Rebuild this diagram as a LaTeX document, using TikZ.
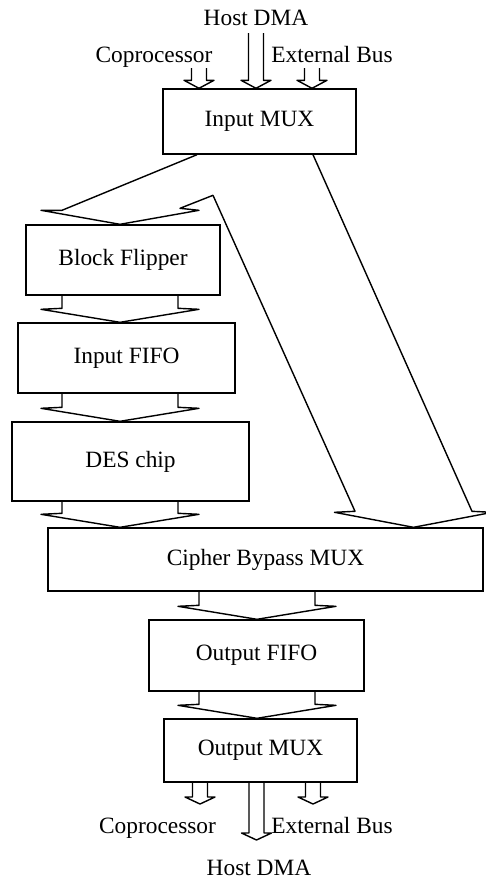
\documentclass[tikz,border=0pt]{standalone}
\usepackage{fontspec}
\setmainfont{Liberation Serif}
\usetikzlibrary{calc}

% wide data path between two stacked blocks, along an axis coordinate
\newcommand\widepath[3]{%
  \draw[flow] ($(#1.south -| #3)+(-58,0)$) -- ($(#2.north -| #3)+(-58,14)$)
    -- ++(-21,-1) -- (#2.north -| #3) -- ++(79,13) -- ++(-21,1)
    -- ($(#1.south -| #3)+(58,0)$);}
% narrow port arrows
\newcommand\inport[2]{%
  \draw[flow] ($(#1)+(-7.5,0)$) -- ($(#2.north -| #1)+(-7.5,8)$) -- ++(-7.5,0)
    -- (#2.north -| #1) -- ++(15,8) -- ++(-7.5,0) -- ($(#1)+(7.5,0)$);}
\newcommand\outport[2]{%
  \draw[flow] ($(#1.south -| #2)+(-7.5,0)$) -- ($(#2)+(-7.5,7)$) -- ++(-7.5,0)
    -- (#2) -- ++(15,7) -- ++(-7.5,0) -- ($(#1.south -| #2)+(7.5,0)$);}

\begin{document}
\begin{tikzpicture}[
    x=0.02cm,y=0.02cm,
    font=\fontsize{13.3}{16}\selectfont,
    block/.style={rectangle,draw,line width=0.8pt,inner sep=0pt},
    flow/.style={line width=0.8pt,line join=round},
    port/.style={anchor=base,inner sep=0pt}
]
 \useasboundingbox (0,0) rectangle (485,-879);

 \node[block,minimum width=3.86cm,minimum height=1.30cm] (imux) at (259.5,-121.5) {Input MUX};
 \node[block,minimum width=3.88cm,minimum height=1.40cm] (bflip) at (123,-260) {Block Flipper};
 \node[block,minimum width=4.34cm,minimum height=1.40cm] (ififo) at (126.5,-358) {Input FIFO};
 \node[block,minimum width=4.74cm,minimum height=1.58cm] (des) at (130.5,-461.5) {DES chip};
 \node[block,minimum width=8.70cm,minimum height=1.26cm] (cbmux) at (265.5,-559.5) {Cipher Bypass MUX};
 \node[block,minimum width=4.30cm,minimum height=1.42cm] (ofifo) at (256.5,-655.5) {Output FIFO};
 \node[block,minimum width=3.86cm,minimum height=1.26cm] (omux) at (260.5,-750.5) {Output MUX};

 \node[port] (hdtop) at (256,-26) {Host DMA};
 \node[port] (cptop) at (154,-62) {Coprocessor};
 \node[port] (ebtop) at (332,-62) {External Bus};
 \node[port] (cpbot) at (157.5,-833) {Coprocessor};
 \node[port] (ebbot) at (332,-833) {External Bus};
 \node[port] (hdbot) at (259,-875) {Host DMA};

 \coordinate (axl) at (120,0);
 \coordinate (axm) at (257,0);
 \coordinate (axb) at (413.5,0);
 \coordinate (cpin) at (199,-68);
 \coordinate (hdin) at (256,-33);
 \coordinate (ebin) at (312,-68);
 \coordinate (cpout) at (200,-804);
 \coordinate (hdout) at (256.5,-840);
 \coordinate (ebout) at (313,-804);

 \inport{cpin}{imux}
 \inport{hdin}{imux}
 \inport{ebin}{imux}

 \draw[flow] ($(imux.south)+(-62.5,0)$) -- ($(bflip.north -| axl)+(-58,14)$) -- ++(-21,0)
    -- (bflip.north -| axl) -- ++(79,14) -- ++(-19,2) -- ++(33,13)
    -- ($(cbmux.north -| axb)+(-58.5,16)$) -- ++(-20.5,-1) -- (cbmux.north -| axb)
    -- ++(79,15) -- ++(-20.5,1) -- ($(imux.south)+(53.5,0)$);

 \widepath{bflip}{ififo}{axl}
 \widepath{ififo}{des}{axl}
 \widepath{des}{cbmux}{axl}
 \widepath{cbmux}{ofifo}{axm}
 \widepath{ofifo}{omux}{axm}

 \outport{omux}{cpout}
 \outport{omux}{hdout}
 \outport{omux}{ebout}
\end{tikzpicture}
\end{document}
